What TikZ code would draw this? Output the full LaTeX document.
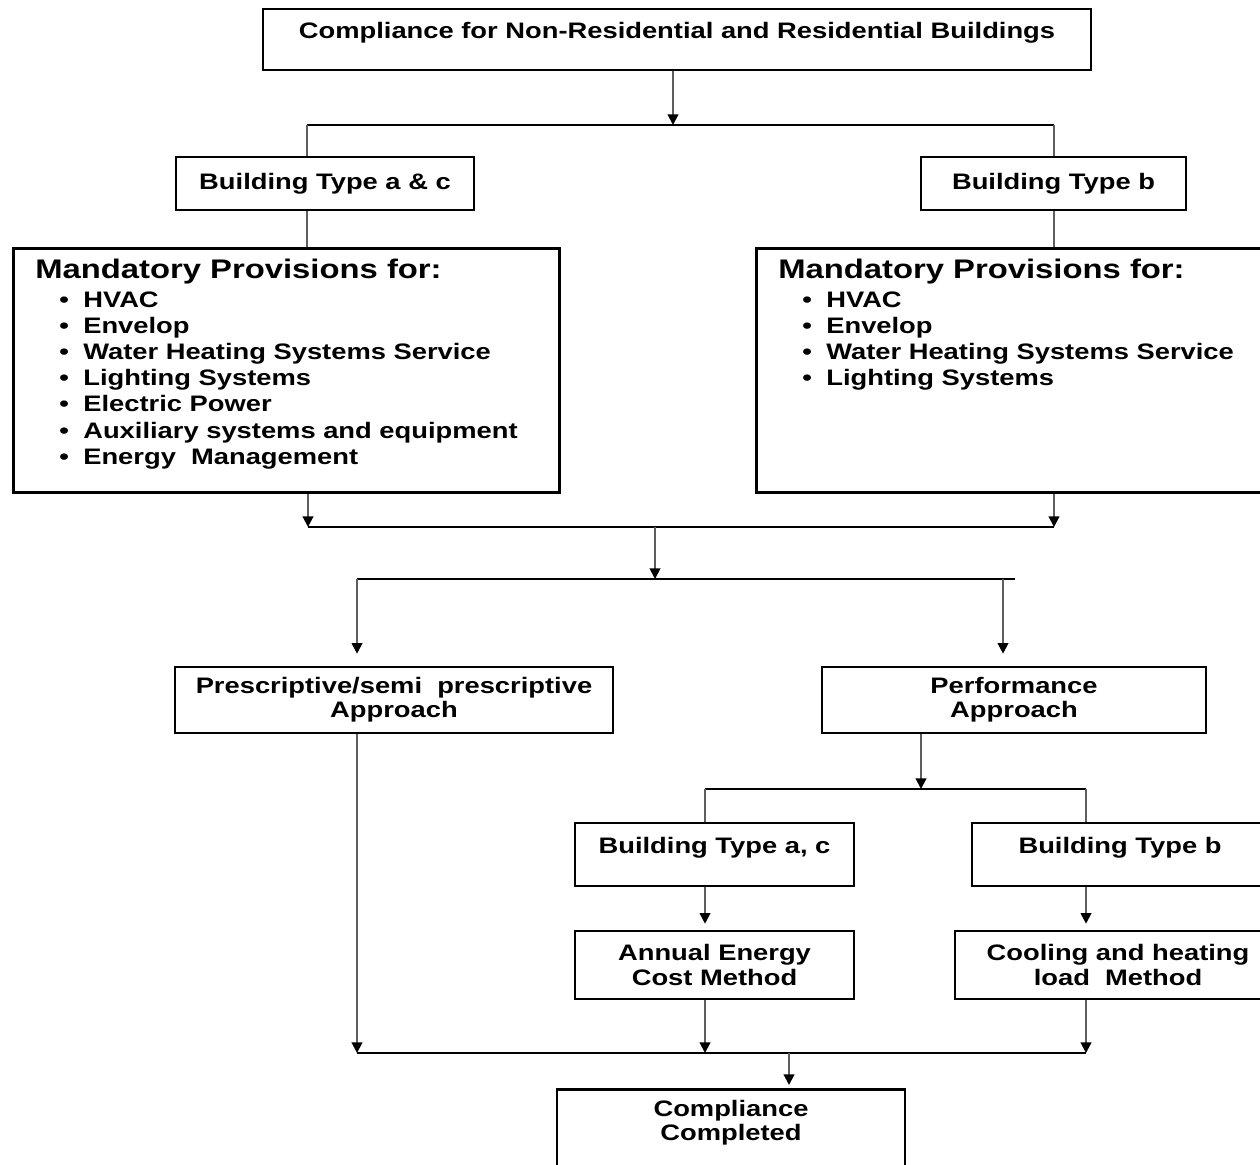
\documentclass[tikz,border=0pt]{standalone}
\usepackage{fontspec}
\setmainfont{Liberation Sans}[FakeStretch=1.22]
\usepackage{xcolor}
\definecolor{line_gray}{RGB}{95,95,95}
\usetikzlibrary{arrows.meta}
\newlength\unitpx
\setlength\unitpx{0.02cm}
\newcommand{\boxfont}{\fontsize{12.75pt}{13.8pt}\selectfont\bfseries}
\newcommand{\headfont}{\fontsize{15.3pt}{17pt}\selectfont\bfseries}
\newcommand{\listfont}{\fontsize{12.75pt}{14.9pt}\selectfont\bfseries}
\newcommand{\provitem}[1]{\hspace*{24\unitpx}\makebox[24\unitpx][l]{\textbullet}#1\par}

\begin{document}
\begin{tikzpicture}[x=0.02cm, y=-0.02cm,
  box/.style={draw, line width=1.5pt, fill=white, align=center, inner sep=0pt, font=\boxfont},
  uppertext/.style={text height=9.5pt, text depth=10.5pt},
  provbox/.style={draw, line width=1.5pt, anchor=north west, inner xsep=22\unitpx, inner ysep=6pt},
  link/.style={line width=1.1pt, draw=line_gray},
  bus/.style={line width=1.3pt, draw=black},
  arr/.style={link, -{Triangle[length=6pt,width=6pt,color=black]}}]
\useasboundingbox[fill=white] (0,0) rectangle (1260,1164);

\node[box, uppertext, minimum width=828\unitpx, minimum height=61\unitpx] (top) at (677,39.5) {Compliance for Non-Residential and Residential Buildings};

\node[box, minimum width=298\unitpx, minimum height=53\unitpx] (typeac) at (325,183.5) {Building Type a \& c};
\node[box, minimum width=265\unitpx, minimum height=53\unitpx] (typeb) at (1053.5,183.5) {Building Type b};

\node[provbox] (mandac) at (12,247) {\begin{minipage}[t][223\unitpx][t]{502\unitpx}
  {\headfont Mandatory Provisions for:\par}\vspace{1.5pt}
  \listfont
  \provitem{HVAC}
  \provitem{Envelop}
  \provitem{Water Heating Systems Service}
  \provitem{Lighting Systems}
  \provitem{Electric Power}
  \provitem{Auxiliary systems and equipment}
  \provitem{Energy\ \ Management}
  \end{minipage}};
\node[provbox] (mandb) at (755,247) {\begin{minipage}[t][223\unitpx][t]{501\unitpx}
  {\headfont Mandatory Provisions for:\par}\vspace{1.5pt}
  \listfont
  \provitem{HVAC}
  \provitem{Envelop}
  \provitem{Water Heating Systems Service}
  \provitem{Lighting Systems}
  \end{minipage}};

\node[box, minimum width=438\unitpx, minimum height=66\unitpx] (presc) at (394,700) {Prescriptive/semi\ \ prescriptive\\Approach};
\node[box, minimum width=384\unitpx, minimum height=66\unitpx] (perf) at (1014,700) {Performance\\Approach};

\node[box, uppertext, minimum width=279\unitpx, minimum height=63\unitpx] (perfac) at (714.5,854.5) {Building Type a, c};
\node[box, uppertext, minimum width=296\unitpx, minimum height=63\unitpx] (perfb) at (1120,854.5) {Building Type b};
\node[box, minimum width=279\unitpx, minimum height=68\unitpx] (annual) at (714.5,965) {Annual Energy\\Cost Method};
\node[box, minimum width=326\unitpx, minimum height=68\unitpx] (cooling) at (1118,965) {Cooling and heating\\load\ \ Method};

\node[box, anchor=north, text depth=16pt, minimum width=348\unitpx, minimum height=90\unitpx] (done) at (731,1088) {Compliance\\Completed};

% split below the title
\coordinate (j1) at (673,125);
\coordinate (upl) at (307,125);
\coordinate (upr) at (1054,125);
\draw[arr] (j1 |- top.south) -- (j1);
\draw[bus] (upl) -- (upr);
\draw[link] (upl) -- (upl |- typeac.north);
\draw[link] (upr) -- (upr |- typeb.north);
\draw[link] (upl |- typeac.south) -- (upl |- mandac.north);
\draw[link] (upr |- typeb.south) -- (upr |- mandb.north);

% join the provisions
\coordinate (midl) at (308,527);
\coordinate (midr) at (1054,527);
\coordinate (j2) at (655,527);
\draw[arr] (midl |- mandac.south) -- (midl);
\draw[arr] (midr |- mandb.south) -- (midr);
\draw[bus] (midl) -- (midr);

% two approaches
\coordinate (appl) at (357,579);
\coordinate (appr) at (1015,579);
\coordinate (perfin) at (1003,579);
\draw[arr] (j2) -- (j2 |- appl);
\draw[bus] (appl) -- (appr);
\draw[arr, shorten >=12\unitpx] (appl) -- (appl |- presc.north);
\draw[arr, shorten >=12\unitpx] (perfin) -- (perfin |- perf.north);

% performance branch
\coordinate (j3) at (921,789);
\coordinate (lowl) at (705,789);
\coordinate (lowr) at (1086,789);
\draw[arr] (j3 |- perf.south) -- (j3);
\draw[bus] (lowl) -- (lowr);
\draw[link] (lowl) -- (lowl |- perfac.north);
\draw[link] (lowr) -- (lowr |- perfb.north);
\draw[arr, shorten >=6\unitpx] (lowl |- perfac.south) -- (lowl |- annual.north);
\draw[arr, shorten >=6\unitpx] (lowr |- perfb.south) -- (lowr |- cooling.north);

% join to the end
\coordinate (endl) at (357,1053);
\coordinate (endm) at (705,1053);
\coordinate (endr) at (1086,1053);
\coordinate (j4) at (789,1053);
\draw[arr] (endl |- presc.south) -- (endl);
\draw[arr] (endm |- annual.south) -- (endm);
\draw[arr] (endr |- cooling.south) -- (endr);
\draw[bus] (endl) -- (endr);
\draw[arr, shorten >=3\unitpx] (j4) -- (j4 |- done.north);

\end{tikzpicture}
\end{document}
